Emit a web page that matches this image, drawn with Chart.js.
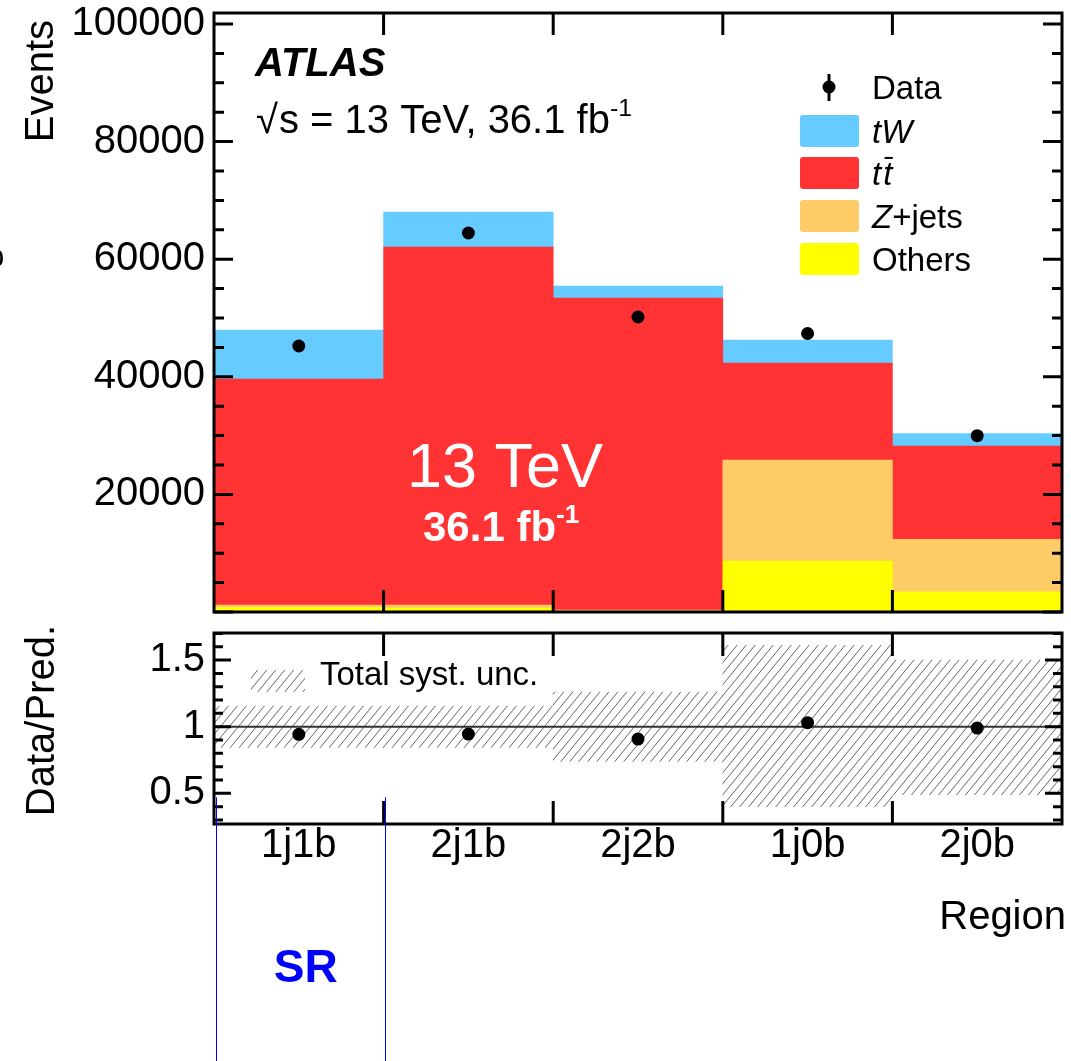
<!DOCTYPE html>
<html>
<head>
<meta charset="utf-8">
<script src="https://cdn.jsdelivr.net/npm/chart.js@4.4.1/dist/chart.umd.min.js"></script>
<style>
  html, body { margin: 0; padding: 0; background: #fff; width: 1071px; height: 1061px; overflow: hidden; }
  canvas { position: absolute; left: 0; }
  #top { top: 0; }
  #bot { top: 622px; }
</style>
</head>
<body>
<canvas id="top" width="1071" height="622"></canvas>
<canvas id="bot" width="1071" height="439"></canvas>
<script>
// Regions and per-process event yields
const regions = ['1j1b', '2j1b', '2j2b', '1j0b', '2j0b'];
const others  = [770, 680, 170, 8670, 3450];
const zjets   = [420, 510, 170, 17180, 8910];
const ttbar   = [38440, 60890, 53060, 16500, 15870];
const tw      = [8330, 5950, 2040, 3910, 2130];
const data    = [45240, 64460, 50170, 47360, 29980];

// Ratio panel: data over prediction and total systematic band
const ratio    = [0.943, 0.945, 0.907, 1.03, 0.99];
const systLow  = [0.845, 0.845, 0.74, 0.40, 0.49];
const systHigh = [1.155, 1.155, 1.26, 1.61, 1.50];

// Axis tick labels
const eventTicks = [20000, 40000, 60000, 80000, 100000];
const ratioTicks = [0.5, 1, 1.5];

const FAMILY = '"Liberation Sans", Arial, Helvetica, sans-serif';
Chart.defaults.font.family = FAMILY;
Chart.defaults.color = '#000';
const f = (size, weight = 'normal', style = 'normal') => `${style} ${weight} ${size}px ${FAMILY}`;

const COLORS = { tw: '#66ccff', tt: '#ff3333', zj: '#fecb66', ot: '#ffff00' };

// Diagonal "////" hatch used for the systematic band
function makeHatch(targetCtx) {
  const w = 9, h = 11;
  const c = document.createElement('canvas');
  c.width = w; c.height = h;
  const g = c.getContext('2d');
  g.strokeStyle = '#666';
  g.lineWidth = 1;
  g.beginPath();
  for (const dx of [-w, 0, w]) { g.moveTo(dx, h); g.lineTo(dx + w, 0); }
  g.stroke();
  return targetCtx.createPattern(c, 'repeat');
}

// Keep the plot frame exactly where the layout padding puts it
function fixAxis(size, horizontal) {
  return s => {
    if (horizontal) s.height = size; else s.width = size;
    s.paddingTop = 0; s.paddingBottom = 0; s.paddingLeft = 0; s.paddingRight = 0;
  };
}

// Frame with inward ticks on all four sides
function drawFrame(chart, o) {
  const { ctx, chartArea: a, scales: { x, y } } = chart;
  ctx.save();
  ctx.strokeStyle = '#000';
  ctx.lineWidth = o.lw;
  ctx.beginPath();
  const k0 = Math.ceil(y.min / o.minor - 1e-9), k1 = Math.floor(y.max / o.minor + 1e-9);
  for (let k = k0; k <= k1; k++) {
    const py = y.getPixelForValue(k * o.minor);
    const len = (k % o.per === 0) ? o.majorLen : o.minorLen;
    ctx.moveTo(a.left, py); ctx.lineTo(a.left + len, py);
    ctx.moveTo(a.right, py); ctx.lineTo(a.right - len, py);
  }
  for (let i = 1; i < regions.length; i++) {
    const px = x.getPixelForValue(i - 0.5);
    ctx.moveTo(px, a.top); ctx.lineTo(px, a.top + o.edgeLen);
    ctx.moveTo(px, a.bottom); ctx.lineTo(px, a.bottom - o.edgeLen);
  }
  ctx.stroke();
  ctx.strokeRect(a.left, a.top, a.right - a.left, a.bottom - a.top);
  ctx.restore();
}

function rotatedText(ctx, text, x, y, font, align) {
  ctx.save();
  ctx.translate(x, y);
  ctx.rotate(-Math.PI / 2);
  ctx.font = font;
  ctx.textAlign = align;
  ctx.textBaseline = 'alphabetic';
  ctx.fillStyle = '#000';
  ctx.fillText(text, 0, 0);
  ctx.restore();
}

// Draws a run of text pieces with optional italic / overbar / superscript
function richText(ctx, parts, x, y, size, color, weight = 'normal') {
  ctx.save();
  ctx.fillStyle = color;
  ctx.strokeStyle = color;
  ctx.textAlign = 'left';
  ctx.textBaseline = 'alphabetic';
  let cx = x;
  for (const p of parts) {
    const s = p.sup ? size * 0.62 : size;
    ctx.font = f(s, p.bold ? 'bold' : weight, p.italic ? 'italic' : 'normal');
    const dy = p.sup ? -size * 0.42 : 0;
    ctx.fillText(p.t, cx, y + dy);
    const w = ctx.measureText(p.t).width;
    if (p.bar) {
      ctx.lineWidth = 2;
      ctx.beginPath();
      ctx.moveTo(cx + w * 0.15, y - size * 0.82);
      ctx.lineTo(cx + w * 1.05, y - size * 0.82);
      ctx.stroke();
    }
    cx += w + (p.gap || 0);
  }
  ctx.restore();
}

const legendLabels = [
  { parts: [{ t: 'tW', italic: true }], color: COLORS.tw },
  { parts: [{ t: 't', italic: true, gap: 2 }, { t: 't', italic: true, bar: true }], color: COLORS.tt },
  { parts: [{ t: 'Z', italic: true }, { t: '+jets' }], color: COLORS.zj },
  { parts: [{ t: 'Others' }], color: COLORS.ot }
];

const topDecor = {
  id: 'topDecor',
  afterDraw(chart) {
    const ctx = chart.ctx;
    drawFrame(chart, { lw: 3, minor: 5000, per: 4, majorLen: 19, minorLen: 10, edgeLen: 22 });

    rotatedText(ctx, 'Events', 53, 20, f(40), 'right');
    rotatedText(ctx, 's', 3, 258, f(40), 'center');

    ctx.save();
    ctx.fillStyle = '#000';
    ctx.font = f(40, 'bold', 'italic');
    ctx.textBaseline = 'alphabetic';
    ctx.fillText('ATLAS', 255, 76);
    ctx.restore();

    richText(ctx, [{ t: '\u221A', gap: 1 }, { t: 's = 13 TeV, 36.1 fb' }, { t: '-1', sup: true }], 256, 133, 40, '#000');

    // legend
    ctx.save();
    ctx.fillStyle = '#000';
    ctx.strokeStyle = '#000';
    ctx.lineWidth = 3;
    ctx.beginPath();
    ctx.moveTo(829, 74); ctx.lineTo(829, 101); ctx.stroke();
    ctx.beginPath(); ctx.arc(829, 87, 6.5, 0, Math.PI * 2); ctx.fill();
    ctx.restore();
    richText(ctx, [{ t: 'Data' }], 872, 99, 33, '#000');
    const tops = [115, 157, 200, 243];
    legendLabels.forEach((l, i) => {
      ctx.save();
      ctx.fillStyle = l.color;
      ctx.beginPath();
      ctx.roundRect(800, tops[i], 59, 32, 3);
      ctx.fill();
      ctx.restore();
      richText(ctx, l.parts, 872, tops[i] + 28, 33, '#000');
    });

    // luminosity label over the ttbar stack
    ctx.save();
    ctx.fillStyle = '#fff';
    ctx.font = f(63);
    ctx.textAlign = 'center';
    ctx.textBaseline = 'alphabetic';
    ctx.fillText('13 TeV', 505, 487);
    ctx.restore();
    richText(ctx, [{ t: '36.1 fb', bold: true }, { t: '-1', sup: true, bold: true }], 423, 541, 42, '#fff', 'bold');
  }
};

new Chart(document.getElementById('top'), {
  type: 'bar',
  data: {
    labels: regions,
    datasets: [
      { type: 'line', label: 'Data', data: data, showLine: false, pointRadius: 6.5,
        pointBackgroundColor: '#000', pointBorderWidth: 0, order: 0 },
      { label: 'Others', data: others, backgroundColor: COLORS.ot, stack: 'mc', order: 1 },
      { label: 'Z+jets', data: zjets, backgroundColor: COLORS.zj, stack: 'mc', order: 1 },
      { label: 'ttbar', data: ttbar, backgroundColor: COLORS.tt, stack: 'mc', order: 1 },
      { label: 'tW', data: tw, backgroundColor: COLORS.tw, stack: 'mc', order: 1 }
    ]
  },
  options: {
    responsive: false,
    animation: false,
    devicePixelRatio: 1,
    layout: { padding: { left: 0, right: 9, top: 13, bottom: 10 } },
    datasets: { bar: { categoryPercentage: 1, barPercentage: 1, borderWidth: 0 } },
    plugins: { legend: { display: false }, tooltip: { enabled: false } },
    scales: {
      x: { display: false, stacked: true, offset: true, grid: { display: false } },
      y: {
        stacked: true, min: 0, max: 101870,
        afterFit: fixAxis(214, false),
        afterBuildTicks: s => { s.ticks = eventTicks.map(v => ({ value: v })); },
        grid: { display: false, drawTicks: false },
        border: { display: false },
        ticks: { font: { size: 40 }, color: '#000', padding: 9, callback: v => String(v) }
      }
    }
  },
  plugins: [topDecor]
});

const botCanvas = document.getElementById('bot');
const hatch = makeHatch(botCanvas.getContext('2d'));

const botDecor = {
  id: 'botDecor',
  afterDatasetDraw(chart, args) {
    if (args.index !== 1) return;
    const { ctx, chartArea: a, scales: { y } } = chart;
    const py = y.getPixelForValue(1);
    ctx.save();
    ctx.strokeStyle = '#333';
    ctx.lineWidth = 2;
    ctx.beginPath();
    ctx.moveTo(a.left, py); ctx.lineTo(a.right, py);
    ctx.stroke();
    ctx.restore();
  },
  afterDraw(chart) {
    const { ctx, scales: { x, y } } = chart;
    drawFrame(chart, { lw: 3, minor: 0.1, per: 5, majorLen: 17, minorLen: 9, edgeLen: 23 });

    rotatedText(ctx, 'Data/Pred.', 54, 3, f(40), 'right');

    // band legend
    ctx.save();
    ctx.fillStyle = hatch;
    ctx.fillRect(251, 48, 54, 22);
    ctx.restore();
    richText(ctx, [{ t: 'Total syst. unc.' }], 320, 63, 33, '#000');

    // signal-region markers
    const x0 = Math.round(x.getPixelForValue(-0.5)) + 2.5;
    const x1 = Math.round(x.getPixelForValue(0.5)) + 1.5;
    const yStart = y.getPixelForValue(0.47);
    ctx.save();
    ctx.strokeStyle = '#0000ff';
    ctx.lineWidth = 1;
    ctx.beginPath();
    ctx.moveTo(x0, yStart); ctx.lineTo(x0, chart.height);
    ctx.moveTo(x1, yStart); ctx.lineTo(x1, chart.height);
    ctx.stroke();
    ctx.fillStyle = '#0000ff';
    ctx.font = f(46, 'bold');
    ctx.textAlign = 'center';
    ctx.textBaseline = 'alphabetic';
    ctx.fillText('SR', x.getPixelForValue(0) + 7, 360);
    ctx.restore();

    ctx.save();
    ctx.fillStyle = '#000';
    ctx.font = f(40);
    ctx.textAlign = 'right';
    ctx.textBaseline = 'alphabetic';
    ctx.fillText('Region', 1066, 307);
    ctx.restore();
  }
};

new Chart(botCanvas, {
  type: 'bar',
  data: {
    labels: regions,
    datasets: [
      { type: 'line', label: 'Data/Pred.', data: ratio, showLine: false, pointRadius: 6.5,
        pointBackgroundColor: '#000', pointBorderWidth: 0, order: 0 },
      { label: 'Total syst. unc.', data: regions.map((r, i) => [systLow[i], systHigh[i]]),
        backgroundColor: hatch, borderWidth: 0, order: 1 }
    ]
  },
  options: {
    responsive: false,
    animation: false,
    devicePixelRatio: 1,
    layout: { padding: { left: 0, right: 9, top: 11, bottom: 0 } },
    datasets: { bar: { categoryPercentage: 1, barPercentage: 1 } },
    plugins: { legend: { display: false }, tooltip: { enabled: false } },
    scales: {
      x: {
        offset: true,
        afterFit: fixAxis(237, true),
        grid: { display: false, drawTicks: false },
        border: { display: false },
        ticks: { font: { size: 40 }, color: '#000', padding: -2, maxRotation: 0, autoSkip: false }
      },
      y: {
        min: 0.27, max: 1.703,
        afterFit: fixAxis(214, false),
        afterBuildTicks: s => { s.ticks = ratioTicks.map(v => ({ value: v })); },
        grid: { display: false, drawTicks: false },
        border: { display: false },
        ticks: { font: { size: 40 }, color: '#000', padding: 9, callback: v => String(v) }
      }
    }
  },
  plugins: [botDecor]
});
</script>
</body>
</html>
